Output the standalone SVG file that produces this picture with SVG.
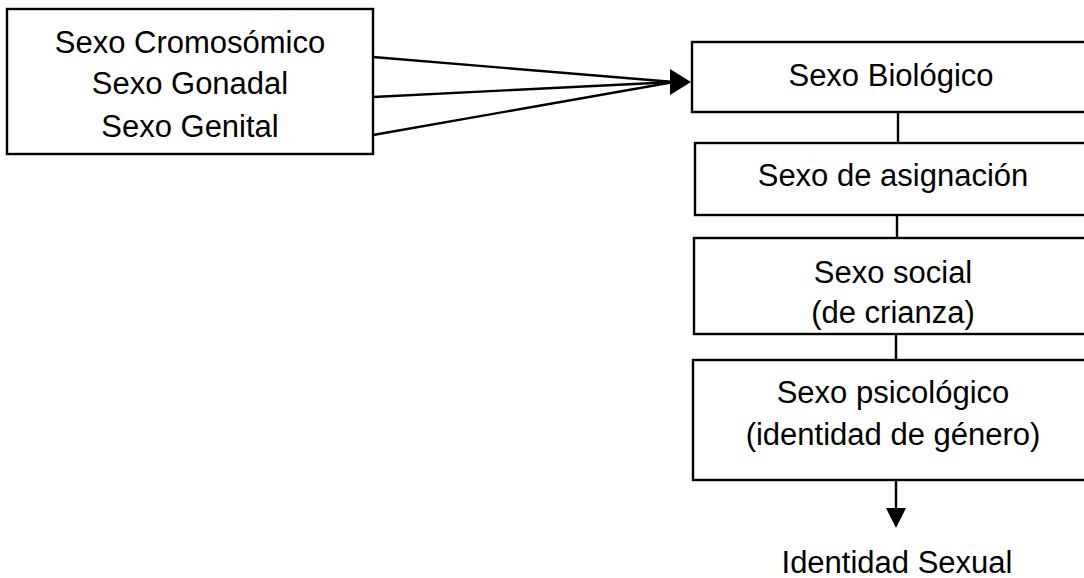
<svg xmlns="http://www.w3.org/2000/svg" width="1084" height="578" viewBox="0 0 1084 578">
<style>
.box{fill:#fff;stroke:#000;stroke-width:2.4}
.t{font-family:"Liberation Sans",Arial,sans-serif;font-size:31px;fill:#000;text-anchor:middle}
.c{stroke:#000;stroke-width:2.4;fill:none}
.ah{fill:#000}
</style>
<rect width="1084" height="578" fill="#fff"/>
<g id="connectors">
<line class="c" x1="373" y1="57" x2="674" y2="82"/>
<line class="c" x1="373" y1="97" x2="674" y2="82"/>
<line class="c" x1="373" y1="135" x2="674" y2="82"/>
<path class="ah" d="M670,69 L691,82 L670,95 Z"/>
<line class="c" x1="898" y1="112" x2="898" y2="143"/>
<line class="c" x1="897" y1="215" x2="897" y2="238"/>
<line class="c" x1="896" y1="334" x2="896" y2="360"/>
<line class="c" x1="896" y1="480" x2="896" y2="510"/>
<path class="ah" d="M886,508 L906,508 L896,528 Z"/>
</g>
<g id="n-origen">
<rect class="box" x="7" y="9" width="366" height="145"/>
<text class="t" x="190" y="53">Sexo Cromosómico</text>
<text class="t" x="190" y="94">Sexo Gonadal</text>
<text class="t" x="190" y="137">Sexo Genital</text>
</g>
<g id="n-biologico">
<rect class="box" x="692" y="42" width="400" height="70"/>
<text class="t" x="891" y="86">Sexo Biológico</text>
</g>
<g id="n-asignacion">
<rect class="box" x="695" y="143" width="400" height="72"/>
<text class="t" x="893" y="186">Sexo de asignación</text>
</g>
<g id="n-social">
<rect class="box" x="694" y="238" width="400" height="96"/>
<text class="t" x="893" y="283">Sexo social</text>
<text class="t" x="893" y="323">(de crianza)</text>
</g>
<g id="n-psicologico">
<rect class="box" x="693" y="360" width="400" height="120"/>
<text class="t" x="893" y="403">Sexo psicológico</text>
<text class="t" x="893" y="445">(identidad de género)</text>
</g>
<g id="n-identidad">
<text class="t" x="897" y="573">Identidad Sexual</text>
</g>
</svg>
